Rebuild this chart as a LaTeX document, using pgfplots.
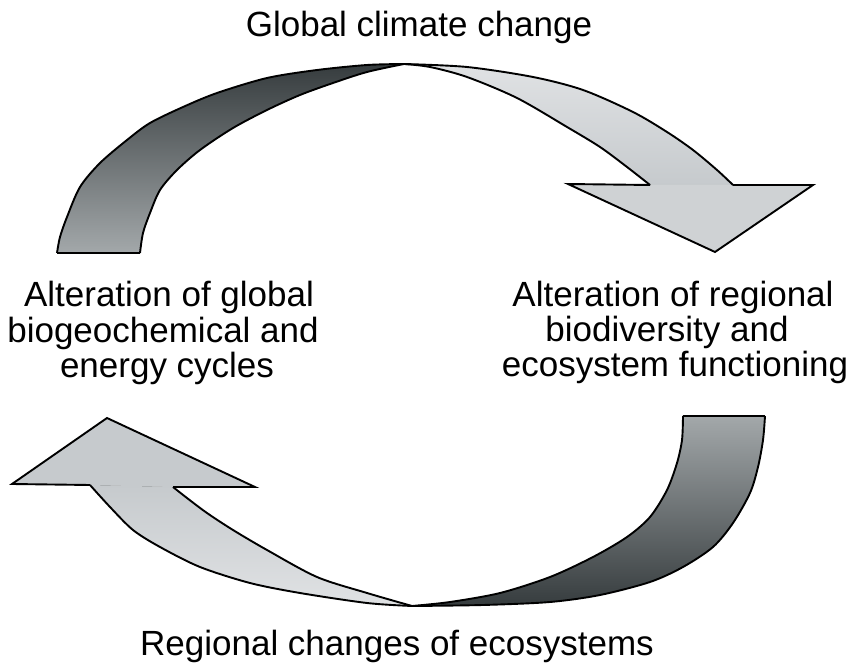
\documentclass[border=0pt]{standalone}
\usepackage{pgfplots}
\pgfplotsset{compat=1.18}
\usepgfplotslibrary{fillbetween}
\usepackage{fontspec}
\setmainfont{Liberation Sans}
\definecolor{darkA}{HTML}{363C3E}
\definecolor{midA}{HTML}{A3A8AA}
\definecolor{lightA}{HTML}{E0E2E4}
\definecolor{lightB}{HTML}{C6CACD}
\pgfplotstableread{
x y
57 253
60 237
67 217
80 187
100 163
127 140
150 123
183 107
217 93
267 78
317 70
367 65
404 64
}\tA
\pgfplotstableread{
x y
140 253
143 233
150 213
160 190
177 170
200 150
233 128
267 110
300 95
333 83
367 72
404 64
}\tB
\pgfplotstableread{
x y
404 64
467 67
533 77
583 90
633 112
667 132
693 150
717 170
733 185
}\tC
\pgfplotstableread{
x y
404 64
430 67
467 77
517 98
567 127
600 147
627 167
650 185
}\tD
\pgfplotstableread{
x y
765 416
763 440
758 467
750 493
733 523
713 547
683 567
650 582
600 595
550 602
483 605
412 606
}\tE
\pgfplotstableread{
x y
683 416
682 440
677 463
667 490
650 517
627 537
593 557
550 577
500 593
450 602
412 606
}\tF
\pgfplotstableread{
x y
412 606
367 603
300 593
250 583
200 567
160 547
133 530
110 507
90 485
}\tG
\pgfplotstableread{
x y
412 606
367 593
317 577
267 550
233 530
207 513
187 498
173 487
}\tH
\begin{document}
\begin{tikzpicture}
\begin{axis}[width=853pt,height=664pt,scale only axis,
  xmin=0,xmax=853,ymin=0,ymax=664,y dir=reverse,hide axis,clip=false]
\addplot[draw=none] coordinates {(0,0)(853,664)};
% named paths (invisible)
\addplot[name path=A1, draw=none, smooth] table {\tA};
\addplot[name path=B1, draw=none, smooth] table {\tB};
\addplot[name path=A2, draw=none, smooth] table {\tC};
\addplot[name path=B2, draw=none, smooth] table {\tD};
\addplot[name path=A3, draw=none, smooth] table {\tE};
\addplot[name path=B3, draw=none, smooth] table {\tF};
\addplot[name path=A4, draw=none, smooth] table {\tG};
\addplot[name path=B4, draw=none, smooth] table {\tH};
% fills
\addplot[top color=darkA, bottom color=midA, draw=none] fill between[of=A1 and B1];
\addplot[top color=lightA, bottom color=lightB, draw=none] fill between[of=A2 and B2];
\addplot[fill=lightB!85!white, draw=none] coordinates {
(650,185) (568,184) (715,252) (813,185) (733,185)} --cycle;
\addplot[top color=midA, bottom color=darkA, draw=none] fill between[of=A3 and B3];
\addplot[top color=lightB, bottom color=lightA, draw=none] fill between[of=A4 and B4];
\addplot[fill=lightB, draw=none] coordinates {
(90,485) (12,484) (107,418) (255,487) (173,487)} --cycle;
% outlines
\tikzset{ol/.style={black, solid, mark=none, line width=1.9pt, line join=round}}
\addplot[ol, smooth] table {\tA};
\addplot[ol, smooth] table {\tB};
\addplot[ol] coordinates {(57,253) (140,253)};
\addplot[ol, smooth] table {\tC};
\addplot[ol, smooth] table {\tD};
\addplot[ol, line join=miter] coordinates {(650,185) (568,184) (715,252) (813,185) (733,185)};
\addplot[ol, smooth] table {\tE};
\addplot[ol, smooth] table {\tF};
\addplot[ol] coordinates {(683,416) (765,416)};
\addplot[ol, smooth] table {\tG};
\addplot[ol, smooth] table {\tH};
\addplot[ol, line join=miter] coordinates {(90,485) (12,484) (107,418) (255,487) (173,487)};
% ---------- labels
\begin{scope}[every node/.style={anchor=base, font=\fontsize{35}{36}\selectfont, text=black}]
\node at (axis cs:419,37) {Global climate change};
\node at (axis cs:169,307) {Alteration of global};
\node at (axis cs:163,343) {biogeochemical and};
\node at (axis cs:167,378) {energy cycles};
\node at (axis cs:673,307) {Alteration of regional};
\node at (axis cs:667,342) {biodiversity and};
\node at (axis cs:675,377) {ecosystem functioning};
\node at (axis cs:397,655) {Regional changes of ecosystems};
\end{scope}
\end{axis}
\end{tikzpicture}
\end{document}
